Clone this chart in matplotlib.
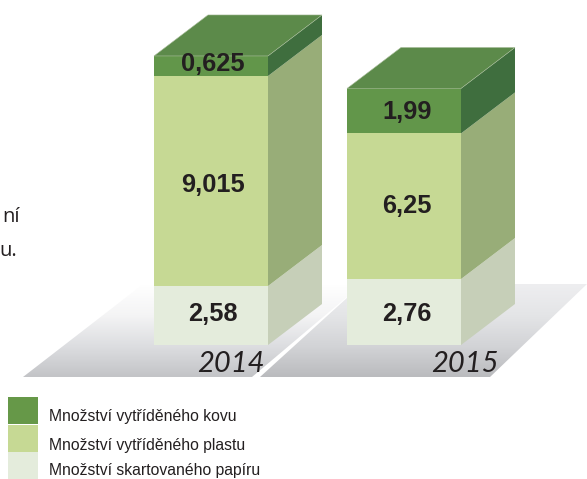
import numpy as np
import matplotlib
matplotlib.use("Agg")
import matplotlib.pyplot as plt
from matplotlib.colors import LinearSegmentedColormap
from matplotlib.patches import Polygon, Rectangle

years = ["2014", "2015"]
# printed values
kov = [0.625, 1.99]
plast = [9.015, 6.25]
papir = [2.58, 2.76]
# heights as drawn in the picture (small segments are not quite to scale)
kov_h = [0.86, 1.93]
plast_h = [9.015, 6.25]
papir_h = [2.53, 2.83]
legend_labels = ["Množství vytříděného kovu", "Množství vytříděného plastu", "Množství skartovaného papíru"]

PX = 23.3  # pixels per unit
BASE = 345
bar_left = [154, 347]
BAR_W = 114
DX = 54
DY = 41 / PX

front = ["#e4ecdc", "#c6d994", "#62964a"]
side = ["#c6cfb8", "#98ad78", "#3f6e3e"]
top_col = "#5c8a4a"
# nudges of the value labels in pixels, papir/plast/kov
label_dx = [2, 3]
label_dy = [[-2, 4, -2], [2, 0, 1]]


def fy(p):
    # pixel row to value units
    return (BASE - p) / PX


fig = plt.figure(figsize=(5.87, 4.79), dpi=100)
ax = fig.add_axes([0, 0, 1, 1])
ax.set_xlim(0, 587)
ax.set_ylim(fy(479), fy(0))
ax.axis("off")

# floor
floors = [[(23, 377), (252, 377), (348, 296), (348, 285), (142, 285)],
          [(260, 377), (348, 297), (348, 284), (587, 284), (490, 377)]]
floor_cols = [["#ffffff", "#f4f4f5", "#dcdde0", "#c2c3c6"],
              ["#eeeef0", "#e4e5e7", "#d2d3d6", "#b9babd"]]
grad = np.linspace(0, 1, 256).reshape(-1, 1)
for pts, cols in zip(floors, floor_cols):
    pts = [(x, fy(y)) for x, y in pts]
    cmap = LinearSegmentedColormap.from_list("floor", cols)
    im = ax.imshow(grad, cmap=cmap, extent=(0, 587, fy(378), fy(284)), aspect="auto", zorder=1)
    im.set_clip_path(Polygon(pts, transform=ax.transData))
ax.set_xlim(0, 587)
ax.set_ylim(fy(479), fy(0))

# stacked boxes
for i in range(2):
    x0 = bar_left[i]
    x1 = x0 + BAR_W
    bottom = 0
    for j, h in enumerate([papir_h[i], plast_h[i], kov_h[i]]):
        ax.add_patch(Rectangle((x0, bottom), BAR_W, h, fc=front[j], ec="none", zorder=3))
        ax.add_patch(Polygon([(x1, bottom), (x1 + DX, bottom + DY), (x1 + DX, bottom + h + DY), (x1, bottom + h)],
                             fc=side[j], ec="none", zorder=3))
        bottom += h
    ax.add_patch(Polygon([(x0, bottom), (x1, bottom), (x1 + DX, bottom + DY), (x0 + DX, bottom + DY)],
                         fc=top_col, ec="#a9bd9b", lw=0.4, zorder=3))

    # labels
    vals = [papir[i], plast[i], kov[i]]
    hs = [papir_h[i], plast_h[i], kov_h[i]]
    b = 0
    for j, (v, h) in enumerate(zip(vals, hs)):
        ax.text(x0 + BAR_W / 2 + label_dx[i], b + h / 2 - label_dy[i][j] / PX, str(v).replace(".", ","),
                ha="center", va="center", family="Liberation Sans", weight="bold", fontsize=18.3,
                color="#231f20", zorder=4)
        b += h

    # year
    ax.text([230.5, 465][i], fy(364), years[i], ha="center", va="center", family="Lato",
            style="italic", fontsize=21, color="#231f20", zorder=4)

# cut off text at the left edge
ax.text(2, fy(222), "ní", family="Open Sans", fontsize=14.5, color="#231f20", va="baseline")
ax.text(-1, fy(256), "u.", family="Open Sans", fontsize=14.5, color="#231f20", va="baseline")

# legend
swatches = ["#669848", "#c6d994", "#e4ecdc"]
sw_top = [397, 425, 452]
text_y = [421, 450, 475]
for s, top, ty, lab in zip(swatches, sw_top, text_y, legend_labels):
    ax.add_patch(Rectangle((8, fy(top + 27)), 30, 27 / PX, fc=s, ec="none", zorder=3))
    ax.text(49, fy(ty), lab, family="Liberation Sans", fontsize=11.3, color="#231f20", va="baseline")

fig.savefig("out.png", dpi=100)
